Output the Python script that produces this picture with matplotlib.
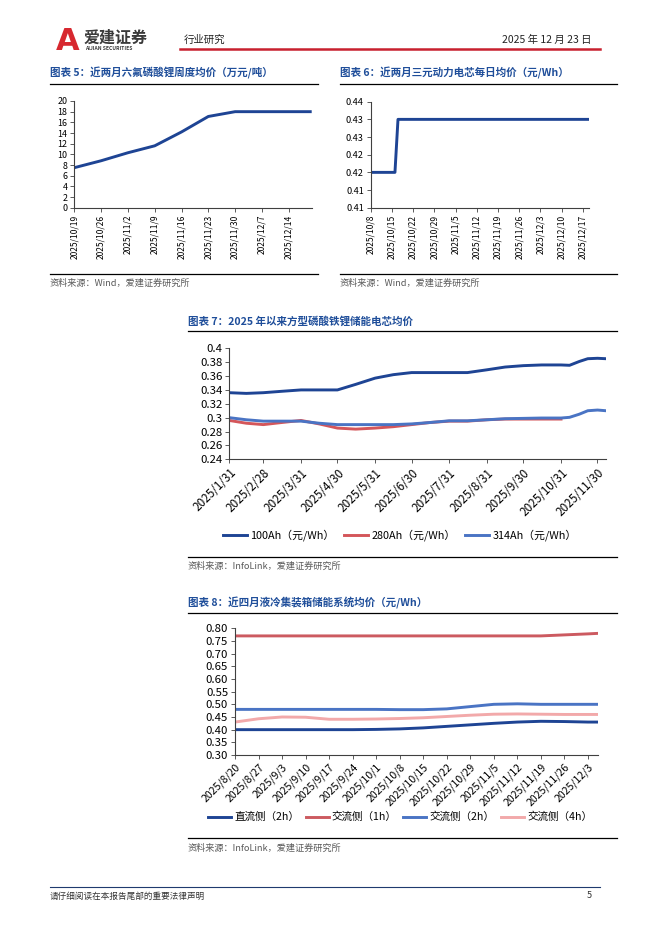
import numpy as np
import pandas as pd
import matplotlib
matplotlib.use("Agg")
import matplotlib.pyplot as plt
from matplotlib.lines import Line2D
from matplotlib.ticker import FormatStrFormatter, FuncFormatter

plt.rcParams['font.family'] = ['Noto Sans CJK SC', 'DejaVu Sans']

# ---------------- data ----------------
# Chart 5: LiPF6 weekly average price (10k CNY / t)
c5_labels = ["2025/10/19", "2025/10/26", "2025/11/2", "2025/11/9", "2025/11/16",
             "2025/11/23", "2025/11/30", "2025/12/7", "2025/12/14"]
c5_dates = ["2025/10/19", "2025/10/26", "2025/11/2", "2025/11/9", "2025/11/16",
            "2025/11/23", "2025/11/30", "2025/12/7", "2025/12/14", "2025/12/20"]
c5_values = [7.5, 8.8, 10.3, 11.6, 14.2, 17.1, 18.0, 18.0, 18.0, 18.0]

# Chart 6: NCM power cell daily average price (CNY/Wh)
c6_labels = ["2025/10/8", "2025/10/15", "2025/10/22", "2025/10/29", "2025/11/5",
             "2025/11/12", "2025/11/19", "2025/11/26", "2025/12/3", "2025/12/10",
             "2025/12/17"]
c6_dates = ["2025/10/8", "2025/10/16", "2025/10/17", "2025/12/19"]
c6_values = [0.42, 0.42, 0.435, 0.435]

# Chart 7: LFP storage cell prices (CNY/Wh)
c7_labels = ["2025/1/31", "2025/2/28", "2025/3/31", "2025/4/30", "2025/5/31",
             "2025/6/30", "2025/7/31", "2025/8/31", "2025/9/30", "2025/10/31",
             "2025/11/30"]
c7_dates = ["2025/1/31", "2025/2/14", "2025/2/28", "2025/3/15", "2025/3/31",
            "2025/4/15", "2025/4/30", "2025/5/15", "2025/5/31", "2025/6/15",
            "2025/6/30", "2025/7/15", "2025/7/31", "2025/8/15", "2025/8/31",
            "2025/9/15", "2025/9/30", "2025/10/15", "2025/10/31", "2025/11/7",
            "2025/11/15", "2025/11/22", "2025/11/30", "2025/12/7"]
c7_100ah = [0.336, 0.335, 0.336, 0.338, 0.340, 0.340, 0.340, 0.348, 0.357, 0.362,
            0.365, 0.365, 0.365, 0.365, 0.369, 0.373, 0.375, 0.376, 0.376, 0.3755,
            0.381, 0.385, 0.3856, 0.385]
c7_280ah = [0.296, 0.292, 0.290, 0.293, 0.296, 0.291, 0.285, 0.2835, 0.285, 0.287,
            0.290, 0.293, 0.295, 0.295, 0.297, 0.298, 0.298, 0.298, 0.298, None,
            None, None, None, None]
c7_314ah = [0.300, 0.297, 0.295, 0.295, 0.295, 0.292, 0.290, 0.290, 0.290, 0.290,
            0.291, 0.293, 0.2955, 0.2955, 0.297, 0.2985, 0.299, 0.2995, 0.2995, 0.3005,
            0.305, 0.310, 0.311, 0.310]
c7_names = ["100Ah（元/Wh）", "280Ah（元/Wh）", "314Ah（元/Wh）"]

# Chart 8: liquid-cooled container ESS prices (CNY/Wh)
c8_labels = ["2025/8/20", "2025/8/27", "2025/9/3", "2025/9/10", "2025/9/17",
             "2025/9/24", "2025/10/1", "2025/10/8", "2025/10/15", "2025/10/22",
             "2025/10/29", "2025/11/5", "2025/11/12", "2025/11/19", "2025/11/26",
             "2025/12/3"]
c8_dates = c8_labels + ["2025/12/6"]
c8_dc2h = [0.400, 0.400, 0.400, 0.400, 0.400, 0.400, 0.401, 0.403, 0.407, 0.413,
           0.419, 0.425, 0.430, 0.433, 0.432, 0.430, 0.430]
c8_ac1h = [0.770, 0.770, 0.770, 0.770, 0.770, 0.770, 0.770, 0.770, 0.770, 0.770,
           0.770, 0.770, 0.770, 0.770, 0.774, 0.778, 0.780]
c8_ac2h = [0.480, 0.480, 0.480, 0.480, 0.480, 0.480, 0.480, 0.479, 0.479, 0.482,
           0.491, 0.500, 0.502, 0.500, 0.500, 0.500, 0.500]
c8_ac4h = [0.430, 0.443, 0.450, 0.449, 0.441, 0.441, 0.442, 0.444, 0.447, 0.452,
           0.457, 0.461, 0.462, 0.461, 0.460, 0.460, 0.460]
c8_names = ["直流侧（2h）", "交流侧（1h）", "交流侧（2h）", "交流侧（4h）"]

# ---------------- layout helpers ----------------
W, H = 662, 936
fig = plt.figure(figsize=(W / 100, H / 100), dpi=100)
fig.patch.set_facecolor("white")

TITLE_C = "#1F4E9A"
NAVY = "#1E4494"
RED = "#D4565A"
MBLUE = "#4A74C4"
PINK = "#F2A9AA"
GREY = "#595959"


def ax_at(x0, y0, x1, y1):
    return fig.add_axes([x0 / W, 1 - y1 / H, (x1 - x0) / W, (y1 - y0) / H])


def txt(x, y, s, **kw):
    fig.text(x / W, 1 - y / H, s, **kw)


def hline(x0, x1, y, color="black", lw=0.8):
    fig.add_artist(Line2D([x0 / W, x1 / W], [1 - y / H, 1 - y / H], color=color, lw=lw))


def to_dates(lst):
    return pd.to_datetime(lst, format="%Y/%m/%d")


def style_ax(ax, fs_y, fs_x):
    for s in ["top", "right"]:
        ax.spines[s].set_visible(False)
    for s in ["left", "bottom"]:
        ax.spines[s].set_color("#404040")
        ax.spines[s].set_linewidth(0.8)
    ax.tick_params(axis="both", direction="out", length=3, width=0.6, color="#404040")
    ax.tick_params(axis="y", labelsize=fs_y, pad=2, colors="#404040", labelcolor="black")
    ax.tick_params(axis="x", labelsize=fs_x, pad=2, colors="#404040", labelcolor="black")


# ---------------- header ----------------
txt(56, 41, "A", fontsize=22, fontweight="bold", color="#D7282F", va="center", ha="left",
    family=["DejaVu Sans"])
txt(84, 38, "爱建证券", fontsize=11.5, fontweight="bold", color="#3A3A3A", va="center", ha="left")
txt(85, 49, "AIJIAN SECURITIES", fontsize=3.6, color="#3A3A3A", va="center", ha="left",
    fontweight="bold")
txt(184, 40, "行业研究", fontsize=7.5, color="#222222", va="center", ha="left")
txt(592, 40, "2025 年 12 月 23 日", fontsize=7.5, color="#222222", va="center", ha="right")
hline(180, 600, 49, color="#C8202F", lw=1.8)

# ---------------- chart 5 ----------------
txt(50, 73, "图表 5：近两月六氟磷酸锂周度均价（万元/吨）", fontsize=7.6, fontweight="bold",
    color=TITLE_C, va="center", ha="left")
hline(50, 318, 84, lw=0.9)
ax5 = ax_at(74.3, 101, 311.7, 207.7)
d5 = to_dates(c5_dates)
ax5.plot(d5, c5_values, color=NAVY, lw=2.1, solid_capstyle="butt")
ax5.set_ylim(0, 20)
ax5.set_yticks(np.arange(0, 21, 2))
ax5.set_xlim(d5[0], d5[-1])
t5 = to_dates(c5_labels)
ax5.set_xticks(t5)
ax5.set_xticklabels(c5_labels, rotation=90)
style_ax(ax5, 6.4, 6.1)
hline(50, 318, 274, lw=0.9)
txt(50, 283, "资料来源：Wind，爱建证券研究所", fontsize=6.6, color=GREY, va="center", ha="left")

# ---------------- chart 6 ----------------
txt(340, 73, "图表 6：近两月三元动力电芯每日均价（元/Wh）", fontsize=7.6, fontweight="bold",
    color=TITLE_C, va="center", ha="left")
hline(340, 617, 84, lw=0.9)
ax6 = ax_at(370.7, 101.7, 589, 207.7)
d6 = to_dates(c6_dates)
ax6.plot(d6, c6_values, color=NAVY, lw=2.1, solid_capstyle="butt")
ax6.set_ylim(0.41, 0.44)
ax6.set_yticks(np.round(np.arange(0.41, 0.4401, 0.005), 3))
ax6.yaxis.set_major_formatter(FormatStrFormatter("%.2f"))
t6 = to_dates(c6_labels)
ax6.set_xlim(d6[0], d6[-1])
ax6.set_xticks(t6)
ax6.set_xticklabels(c6_labels, rotation=90)
style_ax(ax6, 6.6, 6.1)
hline(340, 617, 274, lw=0.9)
txt(340, 283, "资料来源：Wind，爱建证券研究所", fontsize=6.6, color=GREY, va="center", ha="left")

# ---------------- chart 7 ----------------
txt(188, 321, "图表 7：2025 年以来方型磷酸铁锂储能电芯均价", fontsize=7.6, fontweight="bold",
    color=TITLE_C, va="center", ha="left")
hline(188, 617, 331, lw=0.9)
ax7 = ax_at(229.3, 348.3, 606, 459.3)
d7 = to_dates(c7_dates)
s280 = np.array([np.nan if v is None else v for v in c7_280ah], dtype=float)
l1, = ax7.plot(d7, c7_100ah, color=NAVY, lw=2.1)
l2, = ax7.plot(d7, s280, color=RED, lw=2.1)
l3, = ax7.plot(d7, c7_314ah, color=MBLUE, lw=2.1)
ax7.set_ylim(0.24, 0.40)
ax7.set_yticks(np.round(np.arange(0.24, 0.4001, 0.02), 2))
ax7.yaxis.set_major_formatter(FuncFormatter(lambda v, p: f"{v:g}"))
ax7.set_xlim(d7[0], d7[-1])
t7 = to_dates(c7_labels)
ax7.set_xticks(t7)
ax7.set_xticklabels(c7_labels, rotation=45, ha="right", rotation_mode="anchor")
style_ax(ax7, 8.2, 8.4)
fig.legend([l1, l2, l3], c7_names, loc="center", bbox_to_anchor=(400 / W, 1 - 535 / H),
           ncol=3, frameon=False, fontsize=7.8, handlelength=2.2, handletextpad=0.3,
           columnspacing=0.9)
hline(188, 617, 557, lw=0.9)
txt(188, 566, "资料来源：InfoLink，爱建证券研究所", fontsize=6.6, color=GREY, va="center", ha="left")

# ---------------- chart 8 ----------------
txt(188, 603, "图表 8：近四月液冷集装箱储能系统均价（元/Wh）", fontsize=7.6, fontweight="bold",
    color=TITLE_C, va="center", ha="left")
hline(188, 617, 612.5, lw=0.9)
ax8 = ax_at(235, 628.3, 598, 755)
d8 = to_dates(c8_dates)
m1, = ax8.plot(d8, c8_dc2h, color=NAVY, lw=2.1)
m2, = ax8.plot(d8, c8_ac1h, color="#CC5A60", lw=2.1)
m3, = ax8.plot(d8, c8_ac2h, color=MBLUE, lw=2.1)
m4, = ax8.plot(d8, c8_ac4h, color=PINK, lw=2.1)
ax8.set_ylim(0.30, 0.80)
ax8.set_yticks(np.round(np.arange(0.30, 0.8001, 0.05), 2))
ax8.yaxis.set_major_formatter(FormatStrFormatter("%.2f"))
ax8.set_xlim(d8[0], d8[-1])
t8 = to_dates(c8_labels)
ax8.set_xticks(t8)
ax8.set_xticklabels(c8_labels, rotation=45, ha="right", rotation_mode="anchor")
style_ax(ax8, 8.2, 7.6)
fig.legend([m1, m2, m3, m4], c8_names, loc="center", bbox_to_anchor=(400 / W, 1 - 817 / H),
           ncol=4, frameon=False, fontsize=7.6, handlelength=2.2, handletextpad=0.3,
           columnspacing=0.6)
hline(188, 617, 838, lw=0.9)
txt(188, 848, "资料来源：InfoLink，爱建证券研究所", fontsize=6.6, color=GREY, va="center", ha="left")

# ---------------- footer ----------------
hline(50, 600, 887, color="#1F3A6E", lw=0.8)
txt(50, 896, "请仔细阅读在本报告尾部的重要法律声明", fontsize=6.2, color="#333333", va="center", ha="left")
txt(592, 896, "5", fontsize=6.5, color="#333333", va="center", ha="right")

fig.savefig("out.png", dpi=100, facecolor="white")
